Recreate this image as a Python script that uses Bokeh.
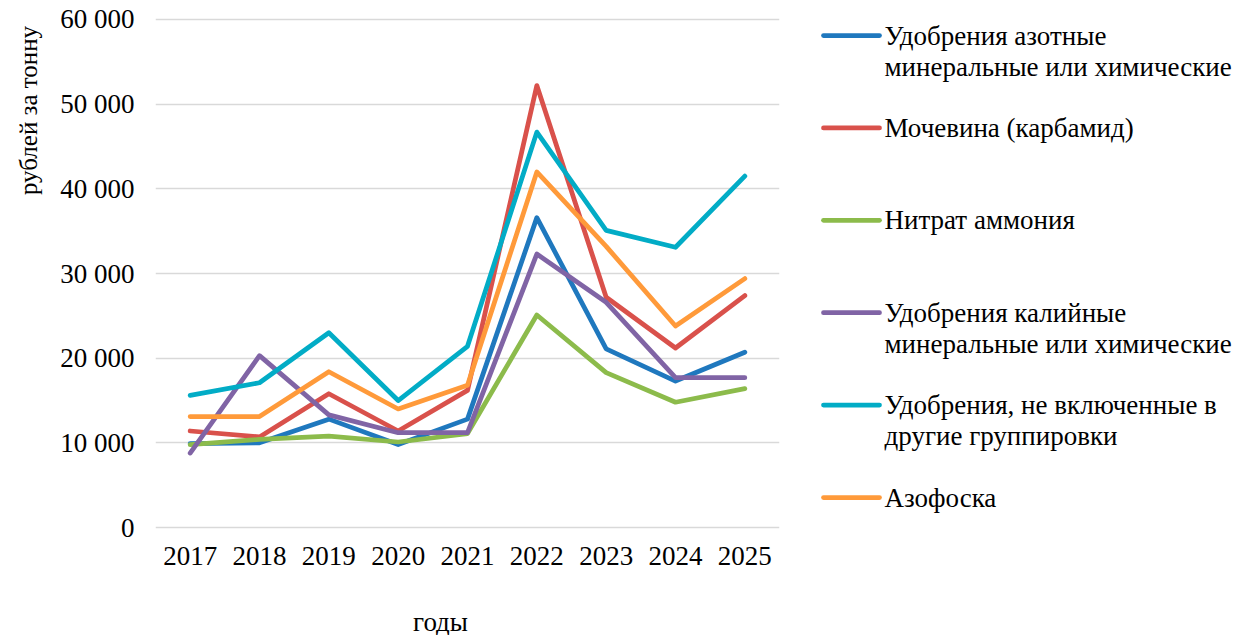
import math
from bokeh.plotting import figure
from bokeh.layouts import row, column
from bokeh.models import Range1d, FactorRange, FixedTicker, ColumnDataSource
from bokeh.core.properties import value
from bokeh.embed import file_html
from bokeh.resources import INLINE

years = ["2017", "2018", "2019", "2020", "2021", "2022", "2023", "2024", "2025"]

series_names = [
    "Удобрения азотные\nминеральные или химические",
    "Мочевина (карбамид)",
    "Нитрат аммония",
    "Удобрения калийные\nминеральные или химические",
    "Удобрения, не включенные в\nдругие группировки",
    "Азофоска",
]
nitrogen = [9900, 10000, 12800, 9800, 12800, 36600, 21100, 17300, 20700]
urea = [11400, 10700, 15800, 11400, 16200, 52200, 27200, 21200, 27400]
ammonium_nitrate = [9800, 10400, 10800, 10100, 11100, 25100, 18300, 14800, 16400]
potash = [8800, 20300, 13300, 11200, 11200, 32300, 26600, 17700, 17700]
other = [15600, 17100, 23000, 15000, 21400, 46700, 35100, 33100, 41500]
azofoska = [13100, 13100, 18400, 14000, 16800, 42000, 33200, 23800, 29400]
series_values = [nitrogen, urea, ammonium_nitrate, potash, other, azofoska]
colors = ["#1F78BE", "#D9514B", "#8CBB4B", "#8064A5", "#02ACC6", "#FF9A3A"]

y_ticks = [0, 10000, 20000, 30000, 40000, 50000, 60000]
y_tick_labels = ["0", "10 000", "20 000", "30 000", "40 000", "50 000", "60 000"]
y_title = "рублей за тонну"
x_title = "годы"

FONT = "Liberation Serif"
FS = "27px"
ROW_H = 600
TOP, BOTTOM = 17, 71          # frame spans page y 17..529
YT_W, MAIN_W, LEG_W = 50, 738, 450


def bare(fig):
    fig.outline_line_color = None
    fig.xgrid.visible = False
    fig.ygrid.visible = False
    return fig


# main chart
p = figure(width=MAIN_W, height=ROW_H, x_range=FactorRange(*years), y_range=Range1d(-234, 60236),
           output_backend="svg", toolbar_location=None,
           min_border_left=155 - YT_W, min_border_right=9, min_border_top=TOP, min_border_bottom=BOTTOM)
p.outline_line_color = None
p.xgrid.grid_line_color = None
p.ygrid.grid_line_color = "#D9D9D9"
p.ygrid.grid_line_width = 1.5
p.yaxis.ticker = FixedTicker(ticks=y_ticks)
p.yaxis.major_label_overrides = {t: l for t, l in zip(y_ticks, y_tick_labels)}
for ax in (p.xaxis[0], p.yaxis[0]):
    ax.axis_line_color = None
    ax.major_tick_line_color = None
    ax.minor_tick_line_color = None
    ax.major_tick_out = 0
    ax.major_tick_in = 0
    ax.major_label_text_font = FONT
    ax.major_label_text_font_size = FS
    ax.major_label_text_color = "black"
p.yaxis.major_label_standoff = 21
p.xaxis.major_label_standoff = 17

for vals, col in zip(series_values, colors):
    p.line(x=years, y=vals, line_color=col, line_width=4.75, line_cap="round", line_join="round")

# y title panel (data units == page pixels)
yt = bare(figure(width=YT_W, height=ROW_H, x_range=Range1d(0, YT_W), y_range=Range1d(ROW_H - BOTTOM, TOP),
                 output_backend="svg", toolbar_location=None, x_axis_type=None, y_axis_type=None,
                 min_border_left=0, min_border_right=0, min_border_top=TOP, min_border_bottom=BOTTOM))
yt.text(x=[28], y=[110], text=[y_title], angle=math.pi / 2, text_font=value(FONT),
        text_font_size="25px", text_align="center", text_baseline="alphabetic", text_color="black")

# legend panel
leg = bare(figure(width=LEG_W, height=ROW_H, x_range=Range1d(0, LEG_W), y_range=Range1d(ROW_H - BOTTOM, TOP),
                  output_backend="svg", toolbar_location=None, x_axis_type=None, y_axis_type=None,
                  min_border_left=0, min_border_right=0, min_border_top=TOP, min_border_bottom=BOTTOM))
n = len(series_names)
ys = [35 + i * 92.4 for i in range(n)]
src = ColumnDataSource(dict(x0=[35] * n, x1=[91] * n, y=ys, c=colors,
                            tx=[96] * n, ty=[y - 15 for y in ys], t=series_names))
leg.segment(x0="x0", x1="x1", y0="y", y1="y", line_color="c", line_width=4.75,
            line_cap="round", source=src)
leg.text(x="tx", y="ty", text="t", text_font=value(FONT), text_font_size=FS,
         text_baseline="top", text_align="left", text_line_height=1.04,
         text_color="black", source=src)

# x title strip
XT_H = 635 - ROW_H
xt = bare(figure(width=YT_W + MAIN_W + LEG_W, height=XT_H,
                 x_range=Range1d(0, YT_W + MAIN_W + LEG_W), y_range=Range1d(635, ROW_H),
                 output_backend="svg", toolbar_location=None, x_axis_type=None, y_axis_type=None,
                 min_border=0))
xt.text(x=[440], y=[621], text=[x_title], text_font=value(FONT), text_font_size=FS,
        text_align="center", text_baseline="middle", text_color="black")

layout = column(row(yt, p, leg), xt)
open("out.html", "w").write(file_html(layout, INLINE))
